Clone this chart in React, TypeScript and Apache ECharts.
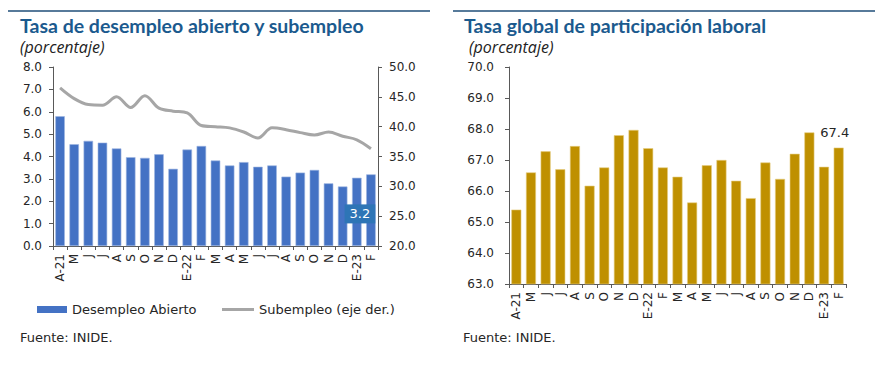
import React, { useEffect, useRef } from "react";
import * as echarts from "echarts";

const categories = ["A-21","M","J","J","A","S","O","N","D","E-22","F","M","A","M","J","J","A","S","O","N","D","E-23","F"];
const desempleo = [5.8,4.55,4.7,4.62,4.36,3.97,3.94,4.1,3.45,4.31,4.47,3.82,3.6,3.75,3.54,3.6,3.1,3.28,3.4,2.8,2.66,3.05,3.2];
const subempleo = [46.5,44.7,43.7,43.6,45.0,43.2,45.2,43.1,42.6,42.3,40.2,40.0,39.8,39.1,38.1,39.8,39.5,39.0,38.6,39.1,38.4,37.8,36.3];
const participacion = [65.4,66.6,67.28,66.7,67.45,66.17,66.76,67.8,67.97,67.38,66.76,66.46,65.63,66.83,67.0,66.33,65.77,66.92,66.39,67.2,67.89,66.78,67.4];
const leftTicks = { min: 0, max: 8, interval: 1 };
const rightTicks = { min: 20, max: 50, interval: 5 };
const partTicks = { min: 63, max: 70, interval: 1 };

const FONT = "DejaVu Sans";
const TITLE_FONT = "Lato";
const AXIS = "#595959";
const TXT = "#262626";

export default function App() {
  const ref = useRef<HTMLDivElement>(null);
  useEffect(() => {
    if (!ref.current) return;
    const chart = echarts.init(ref.current, undefined, { renderer: "svg" });
    const last = categories.length - 1;
    const xAxisBase = (gridIndex: number, margin: number) => ({
      type: "category",
      gridIndex,
      data: categories,
      boundaryGap: true,
      axisLine: { lineStyle: { color: AXIS, width: 1 } },
      axisTick: { show: true, alignWithLabel: false, length: 4, lineStyle: { color: AXIS } },
      axisLabel: { rotate: 90, interval: 0, margin, fontFamily: FONT, fontSize: 12, color: TXT },
    });
    const yAxisBase = (gridIndex: number, t: any, position: string, margin: number) => ({
      type: "value",
      gridIndex,
      position,
      min: t.min,
      max: t.max,
      interval: t.interval,
      splitLine: { show: false },
      axisLine: { show: true, lineStyle: { color: AXIS, width: 1 } },
      axisTick: { show: true, length: 4, lineStyle: { color: AXIS } },
      axisLabel: { margin, fontFamily: FONT, fontSize: 12, color: TXT, formatter: (v: number) => v.toFixed(1) },
    });
    const titleStyle = { fontFamily: TITLE_FONT, fontSize: 19.5, fontWeight: "bold", color: "#1B5A8E" };
    const subStyle = { fontFamily: "Open Sans", fontSize: 16, fontStyle: "italic", fontWeight: "normal", color: "#222" };
    const srcStyle = { fontFamily: FONT, fontSize: 13, fontWeight: "normal", color: TXT };
    chart.setOption({
      animation: false,
      backgroundColor: "#ffffff",
      title: [
        { text: "Tasa de desempleo abierto y subempleo", left: 20, top: 15, padding: 0, textStyle: titleStyle },
        { text: "(porcentaje)", left: 20, top: 39, padding: 0, textStyle: subStyle },
        { text: "Tasa global de participación laboral", left: 464, top: 15, padding: 0, textStyle: titleStyle },
        { text: "(porcentaje)", left: 469, top: 39, padding: 0, textStyle: subStyle },
        { text: "Fuente: INIDE.", left: 20, top: 331, padding: 0, textStyle: srcStyle },
        { text: "Fuente: INIDE.", left: 463, top: 331, padding: 0, textStyle: srcStyle },
      ],
      graphic: [
        { type: "line", shape: { x1: 8, y1: 11, x2: 430, y2: 11 }, style: { stroke: "#1F4E79", lineWidth: 1.5 } },
        { type: "line", shape: { x1: 453, y1: 11, x2: 875, y2: 11 }, style: { stroke: "#1F4E79", lineWidth: 1.5 } },
      ],
      legend: [
        { data: ["Desempleo Abierto"], left: 37, top: 303, padding: 0, itemWidth: 30, itemHeight: 7, icon: "rect", itemStyle: { borderWidth: 0 }, textStyle: { fontFamily: FONT, fontSize: 13, color: TXT } },
        { data: ["Subempleo (eje der.)"], left: 222, top: 303, padding: 0, itemWidth: 32, itemHeight: 3, icon: "rect", itemStyle: { borderWidth: 0 }, textStyle: { fontFamily: FONT, fontSize: 13, color: TXT } },
      ],
      grid: [
        { left: 53, top: 67, width: 325, height: 179 },
        { left: 509, top: 67, width: 337, height: 217 },
      ],
      xAxis: [xAxisBase(0, 8), xAxisBase(1, 8)],
      yAxis: [
        yAxisBase(0, leftTicks, "left", 11),
        yAxisBase(0, rightTicks, "right", 11),
        yAxisBase(1, partTicks, "left", 15),
      ],
      series: [
        {
          name: "Desempleo Abierto",
          type: "bar",
          xAxisIndex: 0,
          yAxisIndex: 0,
          barWidth: 9.5,
          itemStyle: { color: "#4472C4", borderColor: "#9DB5E0", borderWidth: 0.6 },
          data: desempleo.map((v, i) =>
            i === last
              ? { value: v, label: { show: true, position: "top", offset: [-11, 54], formatter: (p: any) => p.value.toFixed(1), backgroundColor: "#2E75B6", color: "#fff", padding: [3, 5], fontFamily: FONT, fontSize: 13 } }
              : v
          ),
          z: 2,
        },
        {
          name: "Subempleo (eje der.)",
          type: "line",
          xAxisIndex: 0,
          yAxisIndex: 1,
          smooth: 0.35,
          symbol: "none",
          showSymbol: false,
          lineStyle: { color: "#A6A6A6", width: 3 },
          itemStyle: { color: "#A6A6A6" },
          data: subempleo.map((v, i) =>
            i === last
              ? { value: v, label: { show: true, position: "top", offset: [-12, -10], formatter: (p: any) => p.value.toFixed(1), color: "#404040", fontFamily: FONT, fontSize: 13 } }
              : v
          ),
          z: 3,
        },
        {
          name: "Participación",
          type: "bar",
          xAxisIndex: 1,
          yAxisIndex: 2,
          barWidth: 10,
          itemStyle: { color: "#BF9000", borderColor: "#E6CC80", borderWidth: 0.6 },
          data: participacion.map((v, i) =>
            i === last
              ? { value: v, label: { show: true, position: "top", offset: [-4, -4], formatter: (p: any) => p.value.toFixed(1), color: "#262626", fontFamily: FONT, fontSize: 13 } }
              : v
          ),
        },
      ],
    });
    return () => chart.dispose();
  }, []);
  return <div ref={ref} style={{ position: "fixed", left: 0, top: 0, width: 891, height: 378 }} />;
}
